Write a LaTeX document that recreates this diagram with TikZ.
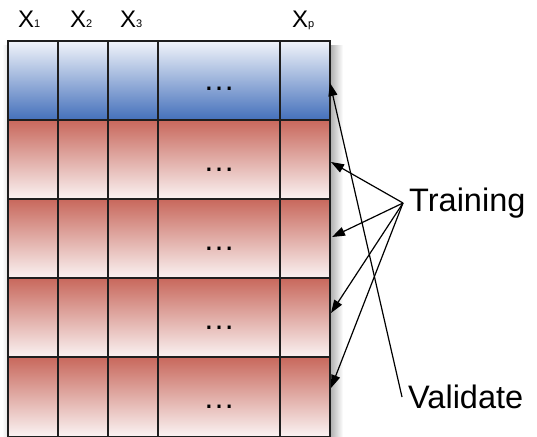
\documentclass[tikz,border=0pt]{standalone}
\usepackage{fontspec}
\setmainfont{Liberation Sans}
\usetikzlibrary{arrows.meta}

\definecolor{blueTop}{HTML}{F1F4FA}
\definecolor{blueBot}{HTML}{4470BB}
\definecolor{redTop}{HTML}{C8685C}
\definecolor{redBot}{HTML}{FAF2F2}
\definecolor{gridline}{HTML}{1E1E1E}

\tikzset{
  gridstroke/.style={draw=gridline, line width=1.8pt},
  header/.style={anchor=base west, inner sep=0pt, font=\fontsize{24}{24}\selectfont},
  dots/.style={anchor=base, inner sep=0pt, font=\fontsize{32}{32}\selectfont},
  sidelabel/.style={anchor=west, inner xsep=6pt, inner ysep=0pt, font=\fontsize{32.5}{32.5}\selectfont},
  pointer/.style={draw=black, line width=1.2pt, -{Triangle[length=13pt,width=9pt]}, shorten >=0pt},
}

\newcommand{\subx}[1]{{\fontsize{11}{11}\selectfont #1}}

\begin{document}
\begin{tikzpicture}[x=1pt, y=-1pt]
  \useasboundingbox (0,0) rectangle (537,436);

  % soft shadow along the sides of the table
  \shade[left color=black!32, right color=white] (330,46) rectangle (343,436);
  \shade[left color=white, right color=black!10] (2,46) rectangle (8,436);

  % validation fold (blue) and training folds (red)
  \shade[top color=blueTop, bottom color=blueBot] (8,41) rectangle (330,120);
  \foreach \t in {120,199,278,357} {
    \shade[top color=redTop, bottom color=redBot] (8,\t) rectangle (330,\t+79);
  }

  % grid lines
  \draw[gridstroke] (8,41) rectangle (330,437);
  \foreach \t in {120,199,278,357} {
    \draw[gridstroke] (8,\t) -- (330,\t);
  }
  \foreach \c in {58,108,158,280} {
    \draw[gridstroke] (\c,41) -- (\c,437);
  }

  % column headers
  \node[header] (h1) at (18,28) {X\subx{1}};
  \node[header] (h2) at (70,28) {X\subx{2}};
  \node[header] (h3) at (120,28) {X\subx{3}};
  \node[header] (hp) at (292,28) {X\subx{p}};

  % ellipses in the wide column
  \node[dots] (d0) at (219,90) {…};
  \foreach \t/\n in {120/1,199/2,278/3,357/4} {
    \node[dots] (d\n) at (219,\t+51) {…};
  }

  % labels at the right
  \node[sidelabel] (train) at (403,203) {Training};
  \node[sidelabel] (valid) at (402,397) {Validate};

  % arrow targets on the right edge of the table
  \coordinate (v0) at (330,83);
  \coordinate (t1) at (331,162);
  \coordinate (t2) at (332,237);
  \coordinate (t3) at (331,313);
  \coordinate (t4) at (331,388);

  \draw[pointer] (valid.west) -- (v0);
  \foreach \n in {1,2,3,4} {
    \draw[pointer] (train.west) -- (t\n);
  }
\end{tikzpicture}
\end{document}
